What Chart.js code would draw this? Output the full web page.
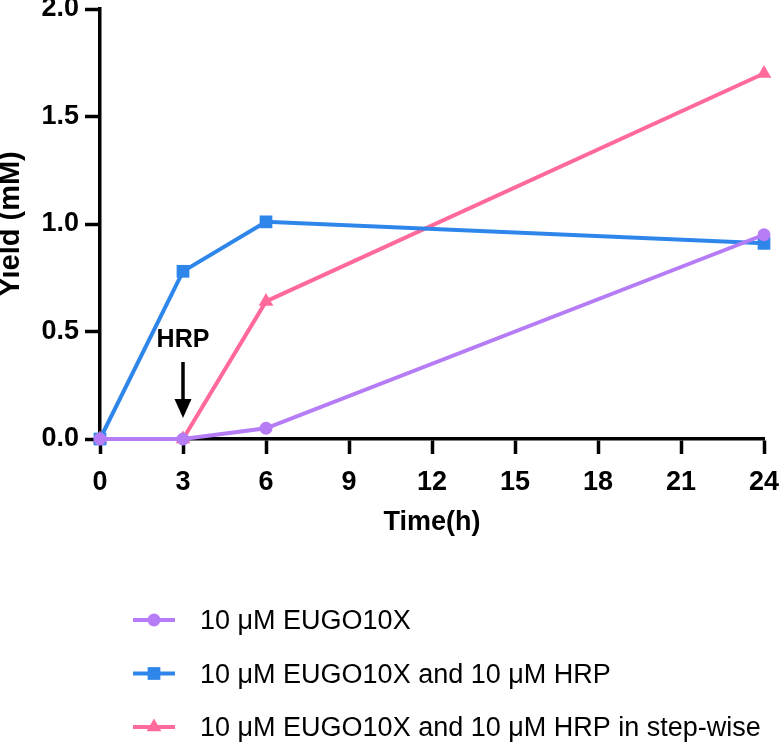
<!DOCTYPE html>
<html>
<head>
<meta charset="utf-8">
<script src="https://cdn.jsdelivr.net/npm/chart.js@4/dist/chart.umd.min.js"></script>
<style>
  html, body { margin: 0; padding: 0; background: #fff; }
  #wrap { width: 780px; height: 744px; }
</style>
</head>
<body>
<div id="wrap"><canvas id="yieldChart" width="780" height="744"></canvas></div>
<script>
// ── Data ──
const timeHours = [0, 3, 6, 24];
const eugoOnly = [0, 0, 0.05, 0.95];
const eugoHrp = [0, 0.78, 1.01, 0.91];
const eugoHrpStep = [0, 0, 0.64, 1.70];

const seriesLabels = [
    '10 \u03bcM EUGO10X',
    '10 \u03bcM EUGO10X and 10 \u03bcM HRP',
    '10 \u03bcM EUGO10X and 10 \u03bcM HRP in step-wise'
];
const seriesColors = ['#b57cf5', '#2f86ea', '#ff6a9a'];
const seriesMarkers = ['circle', 'rect', 'triangle'];
const markerRadius = [6.5, 9, 8.5];

const FONT = 'Arial, "Liberation Sans", Helvetica, sans-serif';

function toPoints(values) {
    return values.map((v, i) => ({ x: timeHours[i], y: v }));
}

function makeDataset(values, i) {
    return {
        label: seriesLabels[i],
        data: toPoints(values),
        borderColor: seriesColors[i],
        backgroundColor: seriesColors[i],
        pointBackgroundColor: seriesColors[i],
        pointBorderColor: seriesColors[i],
        pointBorderWidth: 0,
        pointStyle: seriesMarkers[i],
        pointRadius: markerRadius[i],
        borderWidth: 4,
        tension: 0,
        clip: false
    };
}

// ── Legend + HRP arrow drawn on the canvas ──
const extrasPlugin = {
    id: 'extras',
    afterDraw(chart) {
        const ctx = chart.ctx;
        const xs = chart.scales.x;

        // HRP annotation at t = 3h
        const ax = xs.getPixelForValue(3);
        ctx.save();
        ctx.fillStyle = '#000';
        ctx.strokeStyle = '#000';
        ctx.font = 'bold 25px ' + FONT;
        ctx.textAlign = 'center';
        ctx.textBaseline = 'middle';
        ctx.fillText('HRP', ax, 340);
        ctx.lineWidth = 3.5;
        ctx.beginPath();
        ctx.moveTo(ax, 362);
        ctx.lineTo(ax, 404);
        ctx.stroke();
        ctx.beginPath();
        ctx.moveTo(ax - 8.5, 399);
        ctx.lineTo(ax + 8.5, 399);
        ctx.lineTo(ax, 418);
        ctx.closePath();
        ctx.fill();
        ctx.restore();

        // legend rows
        chart.data.datasets.forEach((ds, i) => {
            const y = 620 + i * 53.5;
            ctx.save();
            ctx.strokeStyle = ds.borderColor;
            ctx.lineWidth = 4;
            ctx.beginPath();
            ctx.moveTo(133, y);
            ctx.lineTo(175, y);
            ctx.stroke();
            ctx.fillStyle = ds.borderColor;
            Chart.helpers.drawPoint(ctx, {
                pointStyle: ds.pointStyle,
                radius: ds.pointRadius,
                rotation: 0,
                borderWidth: 0
            }, 154, y);
            ctx.fillStyle = '#000';
            ctx.font = '27px ' + FONT;
            ctx.textAlign = 'left';
            ctx.textBaseline = 'middle';
            ctx.fillText(ds.label, 200, y + 2);
            ctx.restore();
        });
    }
};

const axisCommon = {
    border: { display: true, color: '#000', width: 3.5 },
    grid: {
        drawOnChartArea: false,
        drawTicks: true,
        tickLength: 15,
        tickColor: '#000',
        tickWidth: 3.5
    }
};

new Chart(document.getElementById('yieldChart'), {
    type: 'line',
    data: {
        datasets: [eugoOnly, eugoHrp, eugoHrpStep].map(makeDataset)
    },
    options: {
        responsive: false,
        animation: false,
        layout: { padding: { left: 0, right: 16, top: 9, bottom: 201 } },
        plugins: { legend: { display: false }, tooltip: { enabled: false } },
        scales: {
            x: {
                ...axisCommon,
                type: 'linear',
                min: 0,
                max: 24,
                ticks: {
                    stepSize: 3,
                    color: '#000',
                    padding: 12,
                    font: { family: FONT, size: 27, weight: 'bold' },
                    maxRotation: 0
                },
                title: {
                    display: true,
                    text: 'Time(h)',
                    color: '#000',
                    padding: { top: 0, bottom: 4 },
                    font: { family: FONT, size: 27, weight: 'bold' }
                },
                afterFit(scale) {
                    scale.height = 104;
                    scale.paddingLeft = 0;
                    scale.paddingRight = 0;
                }
            },
            y: {
                ...axisCommon,
                min: 0,
                max: 2,
                ticks: {
                    stepSize: 0.5,
                    color: '#000',
                    padding: 6,
                    font: { family: FONT, size: 27, weight: 'bold' },
                    callback: v => v.toFixed(1)
                },
                title: {
                    display: true,
                    text: 'Yield (mM)',
                    color: '#000',
                    padding: 0,
                    font: { family: FONT, size: 29, weight: 'bold', lineHeight: 0.75 }
                },
                afterFit(scale) {
                    scale.width = 100;
                    scale.paddingTop = 0;
                    scale.paddingBottom = 0;
                }
            }
        }
    },
    plugins: [extrasPlugin]
});
</script>
</body>
</html>
